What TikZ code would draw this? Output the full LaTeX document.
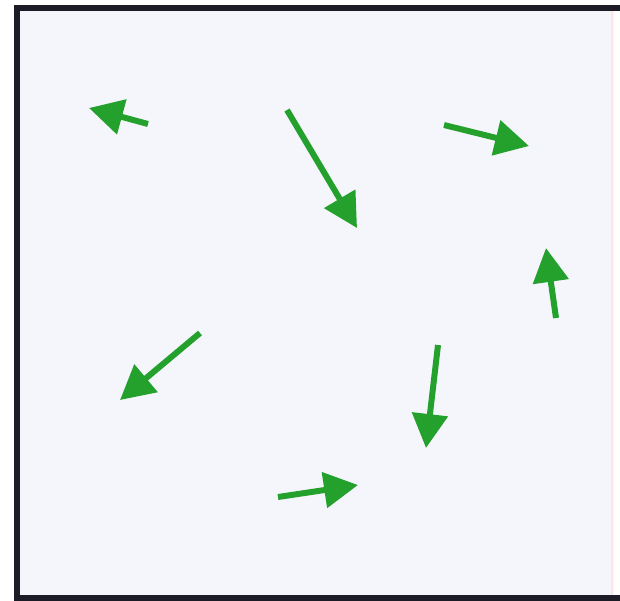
\documentclass[tikz,border=0pt]{standalone}
\usetikzlibrary{arrows.meta}
\definecolor{bgpanel}{RGB}{245,246,251}
\definecolor{framedark}{RGB}{28,28,38}
\definecolor{vecgreen}{RGB}{36,160,44}
\tikzset{
  vec/.style={draw=vecgreen, line width=6pt, -{Triangle[length=34pt,width=35pt]}},
  framelinedark/.style={draw=framedark, line width=6pt},
}
\begin{document}
\begin{tikzpicture}[x=1pt,y=-1pt]
\useasboundingbox (0,0) rectangle (620,600);
\fill[white] (0,0) rectangle (620,600);
\fill[bgpanel] (16,8) rectangle (614,596);
\draw[draw=pink!40, line width=1.5pt] (612,8) -- (612,596);
\draw[framelinedark] (17,600) -- (17,7.5) -- (620,7.5);
\draw[framelinedark] (14,597.5) -- (620,597.5);
% arrows
\coordinate (a1t) at (148,124); \coordinate (a1h) at (89,108);
\coordinate (a2t) at (287,110); \coordinate (a2h) at (357,228);
\coordinate (a3t) at (444,125); \coordinate (a3h) at (529,146);
\coordinate (a4t) at (556,318); \coordinate (a4h) at (546,248);
\coordinate (a5t) at (200,333); \coordinate (a5h) at (120,400);
\coordinate (a6t) at (438,345); \coordinate (a6h) at (426,448);
\coordinate (a7t) at (278,497); \coordinate (a7h) at (358,485);
\foreach \i in {1,...,7} \draw[vec] (a\i t) -- (a\i h);
\end{tikzpicture}
\end{document}
